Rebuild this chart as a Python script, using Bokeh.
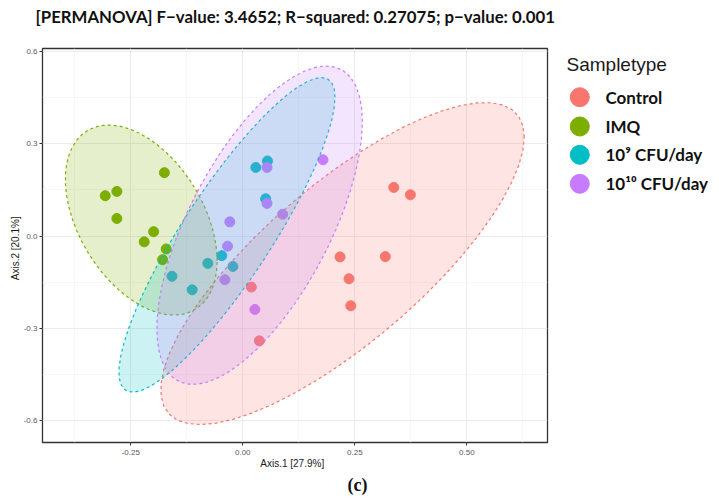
import numpy as np
from bokeh.plotting import figure
from bokeh.layouts import row
from bokeh.models import FixedTicker, PrintfTickFormatter, Title, Range1d
from bokeh.embed import file_html
from bokeh.resources import INLINE
from bokeh.core.properties import value

# ---------------- data ----------------
groups = ["Control", "IMQ", "10⁹ CFU/day", "10¹⁰ CFU/day"]
colors = ["#F8766D", "#7CAE00", "#00BFC4", "#C77CFF"]

control_x = [0.337, 0.374, 0.217, 0.318, 0.237, 0.241, 0.019, 0.037]
control_y = [0.158, 0.134, -0.068, -0.067, -0.139, -0.227, -0.166, -0.341]
imq_x = [-0.175, -0.307, -0.281, -0.281, -0.199, -0.220, -0.171, -0.179]
imq_y = [0.206, 0.131, 0.145, 0.057, 0.014, -0.019, -0.042, -0.077]
cfu9_x = [0.029, 0.055, 0.051, -0.047, -0.022, -0.078, -0.158, -0.113]
cfu9_y = [0.223, 0.244, 0.121, -0.064, -0.099, -0.089, -0.131, -0.175]
cfu10_x = [0.054, 0.054, 0.089, -0.029, -0.034, -0.040, 0.027, 0.179]
cfu10_y = [0.223, 0.106, 0.071, 0.046, -0.033, -0.142, -0.239, 0.248]

x_ticks = [-0.25, 0.0, 0.25, 0.50]
y_ticks = [-0.6, -0.3, 0.0, 0.3, 0.6]

title_text = "[PERMANOVA] F\u2212value: 3.4652; R\u2212squared: 0.27075; p\u2212value: 0.001"
x_label = "Axis.1   [27.9%]"
y_label = "Axis.2   [20.1%]"
legend_title = "Sampletype"
caption = "(c)"

series = [(control_x, control_y), (imq_x, imq_y), (cfu9_x, cfu9_y), (cfu10_x, cfu10_y)]


# ---------------- stat_ellipse(type = "norm", level = 0.95) ----------------
def ellipse_pts(xs, ys, level=0.95, segments=51):
    data = np.column_stack([xs, ys])
    center = data.mean(axis=0)
    cov = np.cov(data, rowvar=False)
    dfd = len(xs) - 1
    fq = dfd / 2.0 * ((1 - level) ** (-2.0 / dfd) - 1)   # qf(level, 2, dfd)
    radius = np.sqrt(2 * fq)
    L = np.linalg.cholesky(cov)
    ang = np.linspace(0, 2 * np.pi, segments + 1)
    circ = np.column_stack([np.cos(ang), np.sin(ang)])
    e = center + radius * (circ @ L.T)
    return e[:, 0], e[:, 1]


TOP, BOTTOM, H = 48, 61, 503

# ---------------- main plot ----------------
p = figure(width=560, height=H, x_range=Range1d(-0.447, 0.680), y_range=Range1d(-0.6715, 0.6098),
           output_backend="svg", toolbar_location=None,
           min_border_left=42, min_border_right=13, min_border_top=TOP, min_border_bottom=BOTTOM)
p.background_fill_color = "white"
p.border_fill_color = "white"
p.outline_line_color = "#333333"
p.outline_line_width = 1.3

p.xaxis.ticker = FixedTicker(ticks=x_ticks, minor_ticks=[-0.375, -0.125, 0.125, 0.375, 0.625])
p.yaxis.ticker = FixedTicker(ticks=y_ticks, minor_ticks=[-0.45, -0.15, 0.15, 0.45])
p.xaxis.formatter = PrintfTickFormatter(format="%.2f")
p.yaxis.formatter = PrintfTickFormatter(format="%.1f")
for ax in (p.xaxis, p.yaxis):
    ax.axis_line_color = None
    ax.major_tick_line_color = "#333333"
    ax.major_tick_out = 3
    ax.major_tick_in = 0
    ax.minor_tick_line_color = None
    ax.major_label_text_font = "Liberation Sans"
    ax.major_label_text_font_size = "8px"
    ax.major_label_text_color = "#595959"
    ax.axis_label_text_font = "Liberation Sans"
    ax.axis_label_text_font_size = "10px"
    ax.axis_label_text_font_style = "normal"
    ax.axis_label_text_color = "#1A1A1A"
p.xaxis.major_label_standoff = 3
p.xaxis.axis_label_standoff = 0
p.yaxis.major_label_standoff = 1
p.yaxis.axis_label_standoff = 0
p.xaxis.axis_label = x_label
p.yaxis.axis_label = y_label

p.grid.grid_line_color = "#EBEBEB"
p.grid.grid_line_width = 1
p.grid.minor_grid_line_color = "#F3F3F3"
p.grid.minor_grid_line_width = 0.7

for (xs, ys), c in zip(series, colors):
    p.scatter(xs, ys, size=10, fill_color=c, line_color=c)

for (xs, ys), c in zip(series, colors):
    ex, ey = ellipse_pts(np.array(xs), np.array(ys))
    p.patch(ex, ey, fill_color=c, fill_alpha=0.2, line_color=c, line_width=1.2, line_dash="3 3")

# spacer first (closest to the frame), then the real title above it
spacer = Title(text=" ", text_font_size="1px", standoff=19)
p.add_layout(spacer, "above")
t = Title(text=title_text, align="left", offset=-7, text_font="Lato", text_font_style="bold",
          text_font_size="16.8px", text_color="#111111", standoff=0)
p.add_layout(t, "above")

cap = Title(text=caption, align="left", offset=305, text_font="Liberation Serif", text_font_style="bold",
            text_font_size="18px", text_color="#111111", standoff=2)
p.add_layout(cap, "below")

# ---------------- legend panel ----------------
leg = figure(width=159, height=H, x_range=Range1d(560, 719), y_range=Range1d(442, 48),
             output_backend="svg", toolbar_location=None, x_axis_type=None, y_axis_type=None,
             min_border_left=0, min_border_right=0, min_border_top=TOP, min_border_bottom=BOTTOM)
leg.outline_line_color = None
leg.grid.visible = False
leg.background_fill_color = "white"
leg.border_fill_color = "white"

leg.text(x=[566], y=[64], text=[legend_title], text_font=value("Liberation Sans"), text_font_size="19px",
         text_baseline="middle", text_align="left", text_color="#1A1A1A")
key_y = [96.7, 126, 154.3, 183.3]
leg.scatter(x=[579.3] * 4, y=key_y, size=19, fill_color=colors, line_color=colors)
leg.text(x=[605] * 4, y=key_y, text=groups, text_font=value("Lato"), text_font_style="bold",
         text_font_size="17px", text_baseline="middle", text_align="left", text_color="#111111")

layout = row(p, leg)
open("out.html", "w").write(file_html(layout, INLINE))
